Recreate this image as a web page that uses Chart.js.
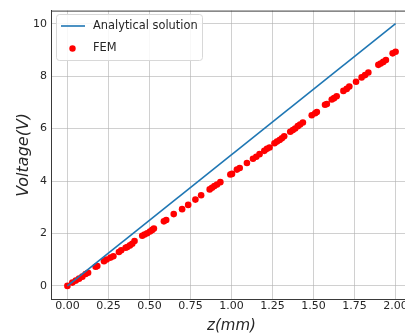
<!DOCTYPE html>
<html>
<head>
<meta charset="utf-8">
<script src="https://cdn.jsdelivr.net/npm/chart.js@4.4.1/dist/chart.umd.min.js"></script>
<style>
  html, body { margin: 0; padding: 0; overflow: hidden; background: #ffffff; }
  #wrap { width: 420px; height: 334px; }
</style>
</head>
<body>
<div id="wrap"><canvas id="c" width="420" height="334"></canvas></div>
<script>
// ---- data ----
const analyticalZ = [0, 2];
const analyticalV = [0, 10];

const femZ = [0, 0.030, 0.051, 0.071, 0.091, 0.111, 0.126, 0.172, 0.182, 0.223, 0.239, 0.263, 0.280,
  0.314, 0.328, 0.355, 0.365, 0.381, 0.395, 0.409, 0.456, 0.470, 0.486, 0.503, 0.517, 0.527,
  0.588, 0.602, 0.648, 0.699, 0.736, 0.780, 0.815, 0.867, 0.881, 0.896, 0.912, 0.932,
  0.993, 1.003, 1.033, 1.050, 1.094, 1.131, 1.151, 1.171, 1.200, 1.216, 1.232,
  1.262, 1.277, 1.293, 1.307, 1.321, 1.358, 1.374, 1.388, 1.404, 1.418, 1.435,
  1.489, 1.510, 1.520, 1.570, 1.581, 1.611, 1.625, 1.641, 1.682, 1.702, 1.718,
  1.759, 1.793, 1.814, 1.834, 1.895, 1.909, 1.925, 1.941, 1.982, 2.000];
const femV = [0, 0.126, 0.201, 0.276, 0.352, 0.452, 0.503, 0.729, 0.754, 0.942, 1.005, 1.080, 1.131,
  1.294, 1.357, 1.457, 1.482, 1.545, 1.608, 1.709, 1.910, 1.960, 2.010, 2.073, 2.136, 2.186,
  2.462, 2.513, 2.739, 2.927, 3.090, 3.291, 3.455, 3.681, 3.744, 3.807, 3.869, 3.957,
  4.246, 4.271, 4.435, 4.497, 4.686, 4.849, 4.925, 5.025, 5.151, 5.226, 5.276,
  5.440, 5.503, 5.565, 5.628, 5.704, 5.879, 5.942, 6.005, 6.093, 6.156, 6.231,
  6.508, 6.583, 6.633, 6.910, 6.935, 7.111, 7.161, 7.236, 7.437, 7.513, 7.601,
  7.789, 7.952, 8.040, 8.141, 8.430, 8.480, 8.543, 8.618, 8.869, 8.932];

const xTicks = [0, 0.25, 0.5, 0.75, 1.0, 1.25, 1.5, 1.75, 2.0];
const xTickLabels = ['0.00', '0.25', '0.50', '0.75', '1.00', '1.25', '1.50', '1.75', '2.00'];
const yTicks = [0, 2, 4, 6, 8, 10];
const yTickLabels = ['0', '2', '4', '6', '8', '10'];

const seriesLabels = ['Analytical solution', 'FEM'];
const axisTitles = { x: 'z(mm)', y: 'Voltage(V)' };

// ---- chart ----
const FONT = "'DejaVu Sans', sans-serif";
const TEXT = '#262626';
const GRID = 'rgba(176,176,176,0.6)';
const SPINE = '#3a3a3a';

const frame = {
  id: 'frame',
  afterDraw(chart) {
    const {ctx, chartArea: a} = chart;
    ctx.save();
    ctx.strokeStyle = SPINE;
    ctx.lineWidth = 1;
    ctx.beginPath();
    ctx.moveTo(a.left, a.top + 0.5);
    ctx.lineTo(a.right, a.top + 0.5);
    ctx.stroke();
    ctx.restore();
  }
};

const insideLegend = {
  id: 'insideLegend',
  afterDatasetsDraw(chart) {
    const ctx = chart.ctx;
    const ds = chart.data.datasets;
    ctx.save();
    ctx.beginPath();
    ctx.roundRect(56.5, 14.5, 146, 46, 3);
    ctx.fillStyle = 'rgba(255,255,255,0.85)';
    ctx.fill();
    ctx.strokeStyle = '#d8d8d8';
    ctx.lineWidth = 1;
    ctx.stroke();
    ctx.strokeStyle = ds[0].borderColor;
    ctx.lineWidth = 1.6;
    ctx.beginPath();
    ctx.moveTo(61, 26);
    ctx.lineTo(85, 26);
    ctx.stroke();
    ctx.fillStyle = ds[1].backgroundColor;
    ctx.beginPath();
    ctx.arc(72.5, 48.5, 3.2, 0, Math.PI * 2);
    ctx.fill();
    ctx.fillStyle = TEXT;
    ctx.font = "11.4px " + FONT;
    ctx.textBaseline = 'middle';
    ctx.textAlign = 'left';
    ctx.fillText(ds[0].label, 93, 26);
    ctx.fillText(ds[1].label, 93, 48.5);
    ctx.restore();
  }
};

new Chart(document.getElementById('c'), {
  type: 'scatter',
  data: {
    datasets: [
      {
        type: 'line',
        label: seriesLabels[0],
        data: analyticalZ.map((z, i) => ({x: z, y: analyticalV[i]})),
        borderColor: '#1f77b4',
        backgroundColor: '#1f77b4',
        borderWidth: 1.6,
        pointRadius: 0,
        fill: false,
        tension: 0
      },
      {
        label: seriesLabels[1],
        data: femZ.map((z, i) => ({x: z, y: femV[i]})),
        backgroundColor: '#ff0000',
        borderWidth: 0,
        pointRadius: 3.3,
        pointHoverRadius: 3.3
      }
    ]
  },
  options: {
    responsive: false,
    animation: false,
    events: [],
    layout: { padding: { left: 0, top: 8, right: 8, bottom: 0 } },
    plugins: {
      legend: { display: false },
      tooltip: { enabled: false }
    },
    scales: {
      x: {
        type: 'linear',
        min: -0.1,
        max: 2.1,
        afterBuildTicks: s => { s.ticks = xTicks.map(v => ({value: v})); },
        afterFit: s => { s.height = 35; },
        grid: { color: GRID, lineWidth: 1, drawTicks: false },
        border: { color: SPINE, width: 1 },
        ticks: {
          autoSkip: false, maxRotation: 0, padding: 1,
          color: TEXT, font: { family: FONT, size: 11 },
          callback: (v, i) => xTickLabels[i]
        },
        title: {
          display: true, text: axisTitles.x, color: TEXT,
          font: { family: FONT, size: 15, style: 'italic', lineHeight: 1 },
          padding: { top: 0, bottom: 0 }
        }
      },
      y: {
        type: 'linear',
        min: -0.5,
        max: 10.5,
        afterBuildTicks: s => { s.ticks = yTicks.map(v => ({value: v})); },
        afterFit: s => { s.width = 51; },
        grid: { color: GRID, lineWidth: 1, drawTicks: false },
        border: { color: SPINE, width: 1 },
        ticks: {
          autoSkip: false, padding: 4,
          color: TEXT, font: { family: FONT, size: 11 },
          callback: (v, i) => yTickLabels[i]
        },
        title: {
          display: true, text: axisTitles.y, color: TEXT,
          font: { family: FONT, size: 16, style: 'italic', lineHeight: 1.2 },
          padding: { top: 14, bottom: 0 }
        }
      }
    }
  },
  plugins: [frame, insideLegend]
});
</script>
</body>
</html>
